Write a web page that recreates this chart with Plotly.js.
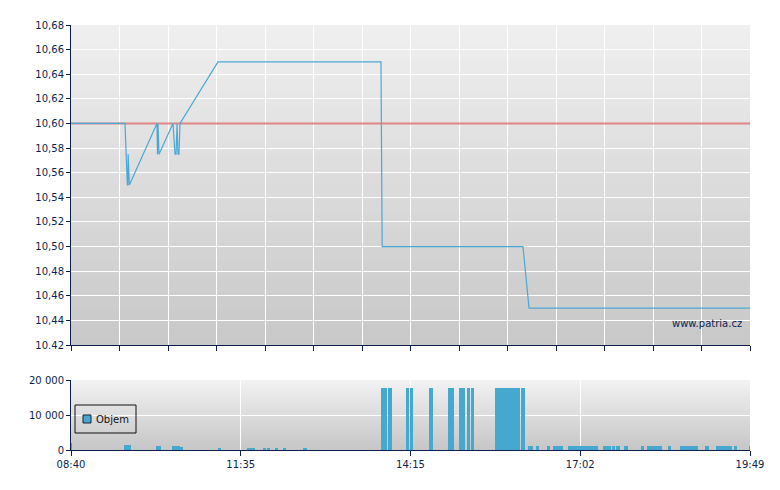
<!DOCTYPE html>
<html>
<head>
<meta charset="utf-8">
<script src="https://cdn.plot.ly/plotly-3.0.1.min.js"></script>
<style>html,body{margin:0;padding:0;background:#fff;}#chart{width:780px;height:490px;}</style>
</head>
<body>
<div id="chart"></div>
<script>
// ---- data (x = minutes since 08:40, on the chart's session scale) ----
const priceTime  = [0, 53.2, 55.5, 56.0, 56.3, 56.8, 57.5, 84.7, 85.2, 85.7, 86.2, 86.7, 100.5, 102.5, 103.5, 104.5, 105.4, 106.4, 107.4, 144.8, 305.4, 306.6, 445.3, 451.3, 669];
const priceValue = [10.60, 10.60, 10.55, 10.55, 10.575, 10.55, 10.55, 10.60, 10.575, 10.60, 10.575, 10.575, 10.60, 10.575, 10.575, 10.60, 10.575, 10.575, 10.60, 10.65, 10.65, 10.50, 10.50, 10.45, 10.45];
const refTime  = [0, 669];
const refValue = [10.60, 10.60];

const volStart = [-1, 52.2, 83.7, 99.5, 107.4, 144.8, 173.4, 189.2, 193.1, 201.0, 208.9, 228.6,
  305.4, 312.3, 330.1, 334.0, 352.7, 371.4, 382.3, 390.2, 394.1, 417.8, 443.4,
  450.3, 458.2, 469.0, 474.9, 489.7, 524.2, 533.0, 537.0, 544.9, 561.6, 567.5, 588.2, 600.0, 624.7, 635.5, 653.3, 668];
const volEnd = [1, 59.1, 88.7, 107.4, 110.4, 147.8, 181.3, 192.1, 196.1, 203.9, 211.8, 232.5,
  311.3, 316.3, 333.0, 337.0, 356.7, 377.4, 388.2, 393.1, 397.1, 442.4, 447.3,
  455.2, 461.1, 471.9, 484.7, 519.2, 532.0, 536.0, 540.9, 548.8, 564.6, 582.3, 591.2, 617.8, 628.6, 651.3, 656.2, 670];
const volValue = [2000, 1400, 1150, 1150, 850, 600, 600, 600, 600, 600, 600, 600,
  17800, 17800, 17800, 17800, 17800, 17800, 17800, 17800, 17800, 17800, 17800,
  1150, 1150, 1150, 1150, 1150, 1150, 1150, 1150, 1150, 1150, 1150, 1150, 1150, 1150, 1150, 1150, 1150];

const priceTickVals = [10.42, 10.44, 10.46, 10.48, 10.50, 10.52, 10.54, 10.56, 10.58, 10.60, 10.62, 10.64, 10.66, 10.68];
const priceTickText = ["10.42", "10,44", "10,46", "10,48", "10,50", "10,52", "10,54", "10,56", "10,58", "10,60", "10,62", "10,64", "10,66", "10,68"];
const timeTickVals = [0, 167.25, 334.5, 501.75, 669];
const timeTickText = ["08:40", "11:35", "14:15", "17:02", "19:49"];
const volTickVals = [0, 10000, 20000];
const volTickText = ["0", "10 000", "20 000"];

// ---- drawing ----
const navy = '#0b1f4f';
const topGrid = [];
for (let i = 0; i <= 14; i++) topGrid.push(669 * i / 14);

const volX = volStart.map((s, i) => (s + volEnd[i]) / 2);
const volW = volStart.map((s, i) => volEnd[i] - s);

const traces = [
  {x: refTime, y: refValue, type: 'scatter', mode: 'lines', xaxis: 'x', yaxis: 'y',
   line: {color: '#e08686', width: 2}, showlegend: false, hoverinfo: 'skip'},
  {x: priceTime, y: priceValue, type: 'scatter', mode: 'lines', xaxis: 'x', yaxis: 'y',
   line: {color: '#4aa8d6', width: 1.2}, showlegend: false, name: 'Cena'},
  {x: volX, y: volValue, width: volW, type: 'bar', xaxis: 'x2', yaxis: 'y2',
   marker: {color: '#46a7cf', line: {width: 0}}, name: 'Objem', showlegend: false}
];

function gradient(xref, yref, c0, c1, n) {
  const out = [];
  for (let i = 0; i < n; i++) {
    const t = i / (n - 1);
    const c = c0.map((v, k) => Math.round(v + (c1[k] - v) * t));
    out.push({type: 'rect', xref: xref, yref: yref, x0: 0, x1: 1,
      y0: Math.max(0, 1 - (i + 2) / n), y1: 1 - i / n, layer: 'below',
      fillcolor: 'rgb(' + c.join(',') + ')', line: {width: 0, color: 'rgba(0,0,0,0)'}});
  }
  return out;
}

const L = 71, R = 750, T = 25, B = 450, H = B - T, W = R - L;
const px = v => (v - L) / W;
const py = v => (B - v) / H;

const shapes = []
  .concat(gradient('x domain', 'y domain', [239, 239, 239], [200, 200, 200], 60))
  .concat(gradient('x2 domain', 'y2 domain', [241, 241, 241], [199, 199, 199], 30));
// legend box for the volume panel
shapes.push({type: 'rect', xref: 'paper', yref: 'paper', x0: px(75), x1: px(136), y0: py(433), y1: py(405),
  line: {color: '#111', width: 1}, fillcolor: 'rgba(0,0,0,0)', layer: 'above'});
shapes.push({type: 'rect', xref: 'paper', yref: 'paper', x0: px(83), x1: px(91), y0: py(423), y1: py(415),
  line: {color: '#1a2030', width: 1}, fillcolor: '#46a7cf', layer: 'above'});

const font = {family: 'DejaVu Sans, Verdana, sans-serif', size: 10, color: navy};

const layout = {
  width: 780, height: 490,
  margin: {l: L, r: 780 - R, t: T, b: 490 - B, pad: 0},
  paper_bgcolor: '#ffffff', plot_bgcolor: 'rgba(0,0,0,0)',
  font: font, showlegend: false, bargap: 0,
  xaxis: {domain: [0, 1], anchor: 'y', range: [0, 669], tickmode: 'array', tickvals: topGrid,
    showticklabels: false, ticks: 'outside', ticklen: 5, tickcolor: navy,
    showgrid: true, gridcolor: '#ffffff', gridwidth: 1, zeroline: false,
    showline: true, linecolor: navy, linewidth: 1},
  yaxis: {domain: [py(345), 1], anchor: 'x', range: [10.42, 10.68], tickmode: 'array',
    tickvals: priceTickVals, ticktext: priceTickText, ticks: 'outside', ticklen: 4, tickcolor: navy,
    showgrid: true, gridcolor: '#ffffff', gridwidth: 1, zeroline: false,
    showline: true, linecolor: navy, linewidth: 1, tickfont: font},
  xaxis2: {domain: [0, 1], anchor: 'y2', range: [0, 669], tickmode: 'array',
    tickvals: timeTickVals, ticktext: timeTickText, ticks: 'outside', ticklen: 5, tickcolor: navy,
    showgrid: true, gridcolor: '#ffffff', gridwidth: 1, zeroline: false,
    showline: true, linecolor: navy, linewidth: 1, tickfont: font},
  yaxis2: {domain: [0, py(380)], anchor: 'x2', range: [0, 20000], tickmode: 'array',
    tickvals: volTickVals, ticktext: volTickText, ticks: 'outside', ticklen: 4, tickcolor: navy,
    showgrid: true, gridcolor: '#ffffff', gridwidth: 1, zeroline: false,
    showline: true, linecolor: navy, linewidth: 1, tickfont: font},
  shapes: shapes,
  annotations: [
    {xref: 'paper', yref: 'paper', x: px(744), y: py(323), xanchor: 'right', yanchor: 'middle',
     text: 'www.patria.cz', showarrow: false, font: {family: 'DejaVu Sans, Verdana, sans-serif', size: 10, color: navy}},
    {xref: 'paper', yref: 'paper', x: px(94), y: py(419), xanchor: 'left', yanchor: 'middle',
     text: 'Objem', showarrow: false, font: {family: 'DejaVu Sans, Verdana, sans-serif', size: 10, color: '#111'}}
  ]
};

Plotly.newPlot('chart', traces, layout, {staticPlot: true, displayModeBar: false});
</script>
</body>
</html>
